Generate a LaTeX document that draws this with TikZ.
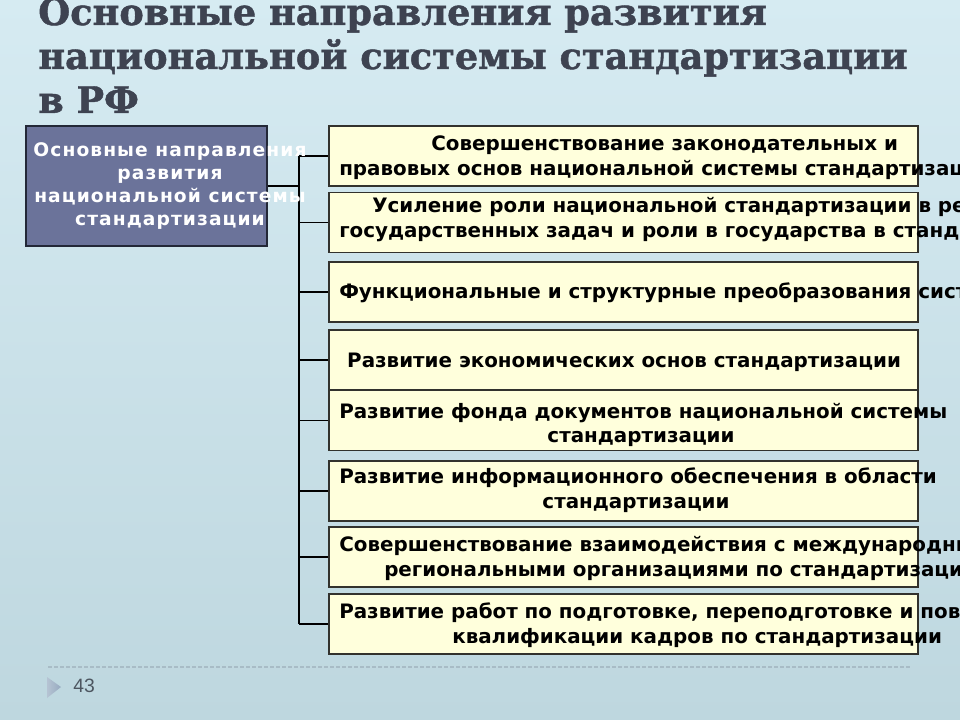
\documentclass[tikz,border=0pt]{standalone}
\usepackage{fontspec}
\setmainfont{DejaVu Sans}
\newfontfamily\titlefont[FakeBold=1.2]{DejaVu Serif}
\newfontfamily\boxfont{DejaVu Sans}
\newfontfamily\leftfont[LetterSpace=5.7]{DejaVu Sans}
\newfontfamily\numfont{Liberation Sans}
\definecolor{bgtop}{RGB}{214,235,242}
\definecolor{bgbot}{RGB}{190,215,223}
\definecolor{titlecol}{RGB}{62,67,81}
\definecolor{mainfill}{RGB}{107,115,154}
\definecolor{mainedge}{RGB}{35,40,55}
\definecolor{boxfill}{RGB}{255,255,220}
\definecolor{boxedge}{RGB}{50,50,45}
\definecolor{footline}{RGB}{168,188,198}
\definecolor{numcol}{RGB}{77,86,96}
\definecolor{tri}{RGB}{150,170,192}
\tikzset{
  rbox/.style={draw=boxedge, line width=0.9pt, fill=boxfill, minimum width=441.75pt, minimum height=45pt, inner sep=0pt},
  mainbox/.style={draw=mainedge, line width=0.9pt, fill=mainfill, minimum width=180.75pt, minimum height=90pt, inner sep=0pt},
  txt/.style={font=\boxfont\bfseries\fontsize{14.9}{17}\selectfont, inner sep=0pt, anchor=base west, text=black},
  ctxt/.style={txt, anchor=base},
  ltxt/.style={font=\leftfont\bfseries\fontsize{14}{16}\selectfont, inner sep=0pt, anchor=base, text=white},
  ttl/.style={font=\titlefont\bfseries\fontsize{27.5}{30}\selectfont, inner sep=0pt, anchor=base west, text=titlecol},
  conn/.style={draw=black, line width=1pt}
}
\begin{document}
\begin{tikzpicture}[x=0.75pt,y=-0.75pt]
\useasboundingbox (0,0) rectangle (960,720);
\clip (0,0) rectangle (960,720);
\shade[top color=bgtop, bottom color=bgbot] (0,0) rectangle (960,720);

% title
\node[ttl] (title1) at (38,25) {Основные направления развития};
\node[ttl] (title2) at (38,69) {национальной системы стандартизации};
\node[ttl] (title3) at (38,113) {в РФ};

% boxes
\node[mainbox] (main) at (146.5,186) {};
\node[rbox] (b1) at (623.5,156) {};
\node[rbox] (b2) at (623.5,222.5) {};
\node[rbox] (b3) at (623.5,292) {};
\node[rbox] (b4) at (623.5,360) {};
\node[rbox] (b5) at (623.5,420.5) {};
\node[rbox] (b6) at (623.5,491) {};
\node[rbox] (b7) at (623.5,557) {};
\node[rbox] (b8) at (623.5,624) {};

% connectors
\coordinate (j) at (299,186);
\draw[conn] (main.east) -- (j);
\draw[conn] (b1.west -| j) -- (b8.west -| j);
\foreach \b in {b1,b2,b3,b4,b5,b6,b7,b8}{
  \draw[conn] (\b.west -| j) -- (\b.west);
}

% left box text
\node[ltxt] (m1) at (170,157) {Основные направления};
\node[ltxt] (m2) at (170,180) {развития};
\node[ltxt] (m3) at (170,203) {национальной системы};
\node[ltxt] (m4) at (170,226) {стандартизации};

% right box texts
\node[txt] (t1a) at (431,151) {Совершенствование законодательных и};
\node[txt] (t1b) at (339,176) {правовых основ национальной системы стандартизации};
\node[txt] (t2a) at (372,213) {Усиление роли национальной стандартизации в решении};
\node[txt] (t2b) at (339,238) {государственных задач и роли в государства в стандартизации};
\node[txt] (t3) at (339,299) {Функциональные и структурные преобразования системы};
\node[ctxt] (t4) at (624,367) {Развитие экономических основ стандартизации};
\node[txt] (t5a) at (339,418) {Развитие фонда документов национальной системы};
\node[ctxt] (t5b) at (641,442) {стандартизации};
\node[txt] (t6a) at (339,483) {Развитие информационного обеспечения в области};
\node[ctxt] (t6b) at (636,508) {стандартизации};
\node[txt] (t7a) at (339,551) {Совершенствование взаимодействия с международными и};
\node[txt] (t7b) at (384,576) {региональными организациями по стандартизации};
\node[txt] (t8a) at (339,618) {Развитие работ по подготовке, переподготовке и повышению};
\node[txt] (t8b) at (452,643) {квалификации кадров по стандартизации};

% footer
\draw[footline, line width=1.2pt, dash pattern=on 3pt off 1.5pt] (48,667) -- (912,667);
\shade[left color=tri!70!white, right color=tri] (47,677) -- (61,687) -- (47,698) -- cycle;
\node[font=\numfont\fontsize{14.5}{16}\selectfont, text=numcol, inner sep=0pt, anchor=base west] (num) at (73,692) {43};
\end{tikzpicture}
\end{document}
